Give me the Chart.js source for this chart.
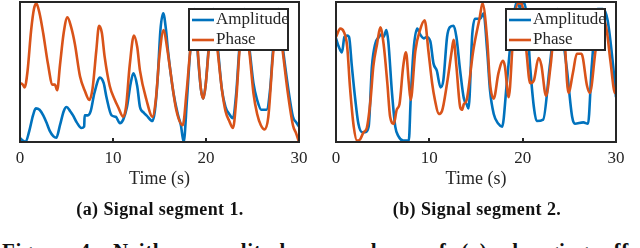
<!DOCTYPE html>
<html>
<head>
<meta charset="utf-8">
<script src="https://cdn.jsdelivr.net/npm/chart.js@4/dist/chart.umd.min.js"></script>
<style>
  html, body { margin:0; padding:0; background:#fff; width:640px; height:248px; overflow:hidden; }
  .wrap { position:absolute; top:0; width:320px; height:200px; }
  .cap { position:absolute; font-family:"Liberation Serif", serif; font-weight:bold; color:#111; white-space:nowrap; }
</style>
</head>
<body>
<div class="wrap" style="left:0"><canvas id="c1" width="320" height="200"></canvas></div>
<div class="wrap" style="left:320px"><canvas id="c2" width="320" height="200"></canvas></div>
<div class="cap" id="capA" style="font-size:18px; left:160px; top:199px; transform:translateX(-50%); letter-spacing:0.4px;">(a) Signal segment 1.</div>
<div class="cap" id="capB" style="font-size:18px; left:477px; top:199px; transform:translateX(-50%); letter-spacing:0.4px;">(b) Signal segment 2.</div>
<div class="cap" style="font-size:21px; left:2px; top:239px; letter-spacing:0.6px; word-spacing:9px;">Figure 4: Neither amplitude nor phase of (a) changing eff</div>
<script>
// ---- data ----
const xTicks = [0, 10, 20, 30];
const seriesNames = ["Amplitude", "Phase"];

// Segment 1
const t1Amp = [0,0.3,0.6,1.0,1.4,1.7,2.1,2.5,2.9,3.2,3.6,3.9,4.3,4.7,5.0,5.4,5.7,6.1,6.6,6.9,6.95,7.3,7.6,8.0,8.6,9.0,9.3,9.85,10.3,10.75,11.1,11.5,11.9,12.2,12.6,12.9,13.3,13.6,14.25,14.5,14.8,15.1,15.4,15.7,15.9,16.5,17.0,17.3,17.6,17.95,18.3,18.8,19.15,19.45,19.7,19.95,20.3,20.8,21.3,21.7,22.1,22.5,22.9,23.25,23.6,24.1,24.7,25.1,25.5,25.95,26.5,26.9,27.2,27.75,28.3,28.8,29.35,29.7,30];
const s1Amp = [0.03,0.01,0.0,0.08,0.19,0.24,0.23,0.19,0.13,0.08,0.04,0.03,0.12,0.22,0.25,0.22,0.19,0.14,0.10,0.11,0.19,0.19,0.22,0.35,0.46,0.42,0.32,0.19,0.18,0.135,0.16,0.25,0.42,0.49,0.40,0.25,0.21,0.19,0.15,0.22,0.45,0.80,0.92,0.80,0.66,0.35,0.19,0.12,0.0,0.3,0.65,0.95,0.6,0.38,0.31,0.4,0.68,0.95,0.65,0.38,0.25,0.20,0.17,0.35,0.68,0.95,0.65,0.42,0.30,0.23,0.23,0.38,0.65,0.95,0.65,0.40,0.18,0.14,0.11];
const t1Pha = [0,0.3,0.5,0.8,1.2,1.5,1.75,2.1,2.5,3.0,3.5,3.75,4.0,4.3,4.7,5.1,5.5,5.9,6.45,7.0,7.45,7.8,8.2,8.5,8.8,9.1,9.65,10.2,10.55,11.1,11.4,11.8,12.25,12.6,12.9,13.6,14.25,14.6,15.0,15.45,15.8,16.1,16.8,17.5,17.9,18.3,18.8,19.15,19.45,19.7,19.95,20.3,20.8,21.3,21.7,22.1,22.5,22.9,23.25,23.6,24.1,24.7,25.1,25.5,25.9,26.3,26.7,27.2,27.75,28.3,28.8,29.35,29.7,30];
const s1Pha = [0.42,0.41,0.39,0.5,0.8,0.95,0.99,0.92,0.775,0.56,0.41,0.41,0.37,0.55,0.78,0.89,0.82,0.70,0.47,0.36,0.30,0.38,0.65,0.83,0.78,0.61,0.40,0.30,0.25,0.18,0.25,0.55,0.76,0.68,0.51,0.30,0.18,0.30,0.62,0.80,0.68,0.54,0.23,0.12,0.35,0.65,0.93,0.62,0.38,0.31,0.40,0.66,0.93,0.62,0.38,0.22,0.15,0.10,0.30,0.65,0.93,0.62,0.35,0.20,0.12,0.09,0.18,0.62,0.92,0.62,0.35,0.12,0.06,0.0];

// Segment 2
const t2Amp = [0,0.3,0.64,0.9,1.2,1.4,1.7,2.07,2.4,2.8,3.14,3.5,3.85,4.2,4.6,4.85,5.1,5.4,5.6,6.0,6.35,6.7,7.2,7.8,8.0,8.3,8.7,9.0,9.4,9.7,10.1,10.45,10.8,11.2,11.5,11.9,12.2,12.6,12.9,13.3,13.7,14.0,14.2,14.6,14.9,15.45,15.8,16.2,16.5,16.9,17.4,17.8,18.3,18.8,19.4,19.7,20.1,20.45,20.8,21.2,21.5,22.2,22.9,23.7,24.7,25.3,25.6,26.5,27.0,27.4,28.0,28.6,29.1,29.7,30];
const s2Amp = [0.74,0.68,0.64,0.75,0.76,0.75,0.54,0.30,0.13,0.07,0.07,0.11,0.54,0.70,0.75,0.77,0.75,0.80,0.72,0.35,0.11,0.04,0.01,0.01,0.30,0.65,0.81,0.77,0.74,0.75,0.72,0.56,0.51,0.39,0.44,0.75,0.82,0.83,0.75,0.51,0.31,0.27,0.24,0.77,0.88,0.88,0.92,0.65,0.37,0.20,0.13,0.11,0.42,0.77,1.0,0.96,1.0,0.89,0.54,0.25,0.15,0.16,0.54,0.95,0.54,0.18,0.13,0.14,0.13,0.54,0.95,0.95,0.87,0.54,0.32];
const t2Pha = [0,0.46,0.82,1.2,1.5,1.9,2.25,2.6,2.96,3.3,3.7,4.0,4.4,4.75,5.1,5.5,5.8,6.2,6.5,6.8,7.2,7.5,7.8,8.0,8.5,9.0,9.5,9.9,10.3,10.6,11.0,11.35,11.9,12.4,12.6,12.9,13.3,13.5,13.7,14.0,14.7,15.4,15.7,16.2,16.5,16.9,17.4,17.9,18.1,18.5,19.0,19.5,19.9,20.4,20.8,21.2,21.7,22.0,22.5,23.0,23.6,24.3,24.9,25.4,25.8,26.3,26.9,27.2,27.8,28.4,29.0,29.4,29.9,30];
const s2Pha = [0.75,0.81,0.79,0.68,0.39,0.11,0.01,0.02,0.07,0.10,0.30,0.54,0.70,0.82,0.70,0.42,0.18,0.13,0.23,0.27,0.54,0.64,0.42,0.30,0.65,0.80,0.87,0.65,0.42,0.30,0.20,0.22,0.42,0.65,0.73,0.54,0.25,0.23,0.27,0.30,0.65,0.89,0.99,0.73,0.42,0.31,0.49,0.58,0.54,0.32,0.77,0.99,0.99,0.65,0.42,0.44,0.60,0.55,0.33,0.55,0.92,0.90,0.35,0.50,0.63,0.63,0.40,0.35,0.65,0.92,0.80,0.58,0.35,0.39];

const COL_AMP = "#0072BD";
const COL_PHA = "#D95319";
const AX = "#262626";

const boxPlugin = {
  id: "boxLegend",
  afterDatasetsDraw(chart) {
    const ctx = chart.ctx, a = chart.chartArea, xs = chart.scales.x;
    ctx.save();
    ctx.strokeStyle = AX; ctx.lineWidth = 2;
    xTicks.forEach(v => {
      const px = Math.round(xs.getPixelForValue(v));
      ctx.beginPath(); ctx.moveTo(px, a.bottom); ctx.lineTo(px, a.bottom - 4); ctx.stroke();
    });
    ctx.lineWidth = 2;
    ctx.strokeRect(a.left, a.top, a.right - a.left, a.bottom - a.top);
    const lw = 99, lh = 41;
    const lx = a.right - 11 - lw, ly = 9;
    ctx.fillStyle = "#fff";
    ctx.fillRect(lx, ly, lw, lh);
    ctx.strokeStyle = AX; ctx.lineWidth = 2;
    ctx.strokeRect(lx, ly, lw, lh);
    const ds = chart.data.datasets;
    const rows = [ly + 11, ly + 31];
    ctx.font = '17px "Liberation Serif"';
    ctx.textBaseline = "middle";
    ds.forEach((d, i) => {
      const y = rows[i];
      ctx.strokeStyle = d.borderColor; ctx.lineWidth = 2.6;
      ctx.beginPath(); ctx.moveTo(lx + 3, y); ctx.lineTo(lx + 25, y); ctx.stroke();
      ctx.fillStyle = AX;
      ctx.fillText(d.label, lx + 27, y);
    });
    ctx.restore();
  }
};

function makeChart(id, tA, sA, tP, sP, padL, padR) {
  return new Chart(document.getElementById(id), {
    type: "line",
    data: {
      datasets: [
        { label: seriesNames[0], data: tA.map((t, i) => ({ x: t, y: sA[i] })), borderColor: COL_AMP, borderWidth: 2.6, pointRadius: 0, cubicInterpolationMode: "monotone", order: 1 },
        { label: seriesNames[1], data: tP.map((t, i) => ({ x: t, y: sP[i] })), borderColor: COL_PHA, borderWidth: 2.6, pointRadius: 0, cubicInterpolationMode: "monotone", order: 0 }
      ]
    },
    options: {
      responsive: false, animation: false, devicePixelRatio: 1,
      layout: { padding: { left: padL, right: padR, top: 2, bottom: 0 } },
      plugins: { legend: { display: false }, tooltip: { enabled: false } },
      scales: {
        x: {
          type: "linear", min: 0, max: 30,
          afterBuildTicks: s => { s.ticks = xTicks.map(v => ({ value: v })); },
          afterFit: s => { s.height = 58; },
          grid: { display: false, drawTicks: false },
          border: { display: false },
          ticks: { padding: 6, color: AX, font: { family: "Liberation Serif", size: 17 }, maxRotation: 0 },
          title: { display: true, text: "Time (s)", color: AX, font: { family: "Liberation Serif", size: 18 }, padding: { top: 0, bottom: 10 } }
        },
        y: { display: false, min: 0, max: 1 }
      }
    },
    plugins: [boxPlugin]
  });
}

makeChart("c1", t1Amp, s1Amp, t1Pha, s1Pha, 20, 21);
makeChart("c2", t2Amp, s2Amp, t2Pha, s2Pha, 16, 24);
</script>
</body>
</html>
